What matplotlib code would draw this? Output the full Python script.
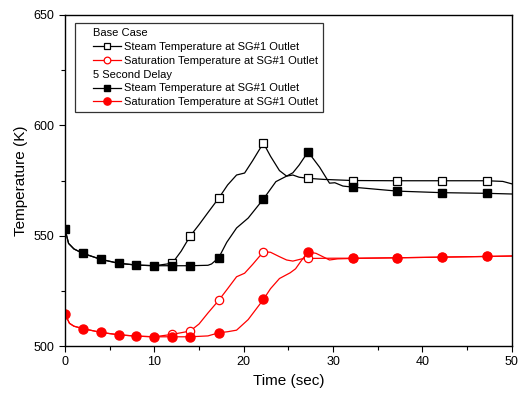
import matplotlib
matplotlib.use("Agg")
import matplotlib.pyplot as plt
from matplotlib.lines import Line2D
from matplotlib.offsetbox import DrawingArea
from matplotlib.ticker import MultipleLocator

# base case, steam temperature
t_base_steam = [0, 0.4, 1, 2, 4, 6, 8, 10, 12, 13, 14, 15, 16, 17.2, 18.2, 19.2,
                20.1, 21, 22.2, 23, 24, 24.8, 25.5, 26.2, 27.2, 29, 32.2, 37.2,
                42.2, 47.2, 49, 50]
T_base_steam = [552.9, 546.5, 544, 542, 539.3, 537.5, 536.7, 536.4, 537.5, 543,
                549.8, 555, 560.5, 567, 573, 577.5, 578.4, 584, 592, 586, 579.5,
                577, 577.5, 576.5, 576, 575.5, 575, 574.9, 574.9, 574.9, 574.6,
                573.5]
mk_base_steam = [12, 14, 17.2, 22.2, 27.2, 32.2, 37.2, 42.2, 47.2]

# base case, saturation temperature
t_base_sat = [0, 0.5, 1, 2, 4, 6, 8, 10, 12, 14, 15, 16, 17.2, 18.2, 19.2, 20.1,
              21, 22.2, 23, 24, 24.8, 25.5, 26.5, 27.2, 30, 32.2, 37.2, 42.2,
              47.2, 50]
T_base_sat = [514.5, 510.3, 509, 507.9, 506.2, 505.1, 504.5, 504.2, 505.3, 506.8,
              510, 515, 520.7, 526, 531.4, 533, 537, 542.7, 542.5, 540.5, 539,
              538.5, 539.5, 539.7, 539.8, 539.8, 540, 540.3, 540.6, 540.8]
mk_base_sat = [12, 14, 17.2, 22.2, 27.2, 32.2, 37.2, 42.2, 47.2]

# 5 second delay, steam temperature
t_delay_steam = [0, 0.4, 1, 2, 4, 6, 8, 10, 12, 14, 16, 16.4, 17.2, 18.1, 19.2,
                 20.5, 22.2, 23.6, 24.8, 25.5, 26.2, 27.2, 28.5, 29.6, 30.2,
                 31.1, 32.2, 37.2, 42.2, 47.2, 50]
T_delay_steam = [552.9, 546.5, 544, 542, 539.3, 537.5, 536.7, 536.4, 536.4,
                 536.4, 536.6, 537.2, 540, 547, 553.5, 558, 566.6, 574.5, 577,
                 578.5, 582, 588, 581, 573.8, 574, 572.5, 572, 570.2, 569.5,
                 569.2, 568.9]
mk_delay_steam = [0, 2, 4, 6, 8, 10, 12, 14, 17.2, 22.2, 27.2, 32.2, 37.2,
                  42.2, 47.2]

# 5 second delay, saturation temperature
t_delay_sat = [0, 0.5, 1, 2, 4, 6, 8, 10, 12, 14, 16, 17.2, 18.2, 19.2, 20.5,
               22.2, 23, 24, 25.2, 25.8, 26.5, 27.2, 28.1, 29.6, 30.5, 32.2,
               37.2, 42.2, 47.2, 50]
T_delay_sat = [514.5, 510.3, 509, 507.9, 506.2, 505.1, 504.5, 504.2, 504.2,
               504.2, 504.6, 506, 506.5, 507.2, 512, 521.1, 526, 530.6, 533.2,
               535, 539, 542.7, 542, 539, 539.5, 539.7, 540, 540.3, 540.6, 540.8]
mk_delay_sat = [0, 2, 4, 6, 8, 10, 12, 14, 17.2, 22.2, 27.2, 32.2, 37.2, 42.2,
                47.2]

headers = ["Base Case", "5 Second Delay"]
label = ["Steam Temperature at SG#1 Outlet",
         "Saturation Temperature at SG#1 Outlet"]

plt.rcParams['font.family'] = ['Liberation Sans', 'DejaVu Sans']

fig = plt.figure(figsize=(5.18, 4.01), dpi=100)
ax = fig.add_axes([0.1255, 0.137, 0.8625, 0.8256])


def idx(t, marks):
    return [t.index(m) for m in marks]


l1, = ax.plot(t_base_steam, T_base_steam, color='black', lw=0.9,
              marker='s', ms=5.5, mfc='white', mec='black', mew=0.9,
              markevery=idx(t_base_steam, mk_base_steam))
l2, = ax.plot(t_base_sat, T_base_sat, color='red', lw=0.9,
              marker='o', ms=6, mfc='white', mec='red', mew=0.9,
              markevery=idx(t_base_sat, mk_base_sat))
l3, = ax.plot(t_delay_steam, T_delay_steam, color='black', lw=0.9,
              marker='s', ms=5.5, mfc='black', mec='black',
              markevery=idx(t_delay_steam, mk_delay_steam))
l4, = ax.plot(t_delay_sat, T_delay_sat, color='red', lw=0.9,
              marker='o', ms=6.5, mfc='red', mec='red',
              markevery=idx(t_delay_sat, mk_delay_sat))

ax.set_xlim(0, 50)
ax.set_ylim(500, 650)
ax.xaxis.set_major_locator(MultipleLocator(10))
ax.xaxis.set_minor_locator(MultipleLocator(5))
ax.yaxis.set_major_locator(MultipleLocator(50))
ax.yaxis.set_minor_locator(MultipleLocator(25))
ax.tick_params(which='both', direction='out', labelsize=9, width=0.8)
ax.tick_params(which='major', length=4)
ax.tick_params(which='minor', length=3)
for s in ax.spines.values():
    s.set_linewidth(1.0)

ax.set_xlabel("Time (sec)", fontsize=11)
ax.set_ylabel("Temperature (K)", fontsize=11)

blank = Line2D([], [], linestyle='none')
handles = [blank, l1, l2, blank, l3, l4]
labels = [headers[0], label[0], label[1], headers[1], label[0], label[1]]
leg = ax.legend(handles, labels, loc='upper left', bbox_to_anchor=(0.022, 0.976),
                borderaxespad=0, fontsize=8, frameon=True, fancybox=False,
                edgecolor='black', handlelength=2.5, handletextpad=0.3,
                labelspacing=0.35, borderpad=0.45, markerscale=0.8)
leg.get_frame().set_linewidth(0.9)

# headers sit flush with the handles, and add some left padding
for col in leg._legend_handle_box.get_children():
    for row in col.get_children():
        kids = row.get_children()
        if kids[1].get_children()[0].get_text() in headers:
            kids = [kids[1]]
        row._children = [DrawingArea(7, 0)] + kids

fig.savefig("out.png", dpi=100)
